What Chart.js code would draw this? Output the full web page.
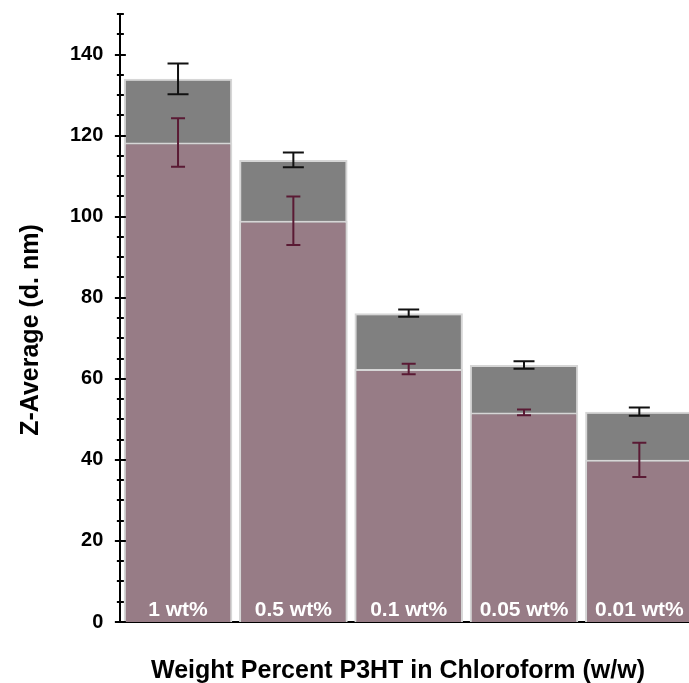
<!DOCTYPE html>
<html>
<head>
<meta charset="utf-8">
<title>Z-Average vs P3HT concentration</title>
<script src="https://cdn.jsdelivr.net/npm/chart.js@4.4.1/dist/chart.umd.min.js"></script>
<style>
  html, body { margin: 0; padding: 0; background: #fff; overflow: hidden; }
  #wrap { width: 700px; height: 683px; }
</style>
</head>
<body>
<div id="wrap"><canvas id="zavgChart" width="700" height="683"></canvas></div>
<script>
// categories (printed inside the bars)
const categories = ['1 wt%', '0.5 wt%', '0.1 wt%', '0.05 wt%', '0.01 wt%'];

// grey bars (taller) and their error
const outerAvg = [134, 114, 76.2, 63.4, 51.9];
const outerErr = [3.8, 1.8, 0.9, 0.9, 1.0];

// mauve bars (front) and their error
const innerAvg = [118.3, 99, 62.4, 51.7, 40];
const innerErr = [6, 6, 1.3, 0.7, 4.2];

// y axis
const yLabels = [0, 20, 40, 60, 80, 100, 120, 140];
const yMax = 150;
const yMinorStep = 5;

const FONT = "'Liberation Sans', Arial, Helvetica, sans-serif";
Chart.defaults.font.family = FONT;

// error bars, in-bar labels, crossing ticks and axis titles
const extras = {
  id: 'extras',
  afterDatasetsDraw(chart) {
    const ctx = chart.ctx;
    const x = chart.scales.x, y = chart.scales.y;

    function errBars(vals, errs, color, cap) {
      ctx.save();
      ctx.strokeStyle = color;
      ctx.lineWidth = 2;
      vals.forEach((v, i) => {
        const cx = x.getPixelForValue(i);
        const top = y.getPixelForValue(v + errs[i]);
        const bot = y.getPixelForValue(v - errs[i]);
        ctx.beginPath();
        ctx.moveTo(cx, top); ctx.lineTo(cx, bot);
        ctx.moveTo(cx - cap / 2, top); ctx.lineTo(cx + cap / 2, top);
        ctx.moveTo(cx - cap / 2, bot); ctx.lineTo(cx + cap / 2, bot);
        ctx.stroke();
      });
      ctx.restore();
    }
    errBars(outerAvg, outerErr, '#111111', 21);
    errBars(innerAvg, innerErr, '#5a1a34', 14);

    // category names inside the bars
    ctx.save();
    ctx.fillStyle = '#ffffff';
    ctx.font = 'bold 21px ' + FONT;
    ctx.textAlign = 'center';
    ctx.textBaseline = 'alphabetic';
    categories.forEach((c, i) => {
      ctx.fillText(c, x.getPixelForValue(i), y.bottom - 6);
    });
    ctx.restore();
  },
  afterDraw(chart) {
    const ctx = chart.ctx;
    const y = chart.scales.y;
    const ax = chart.chartArea.left;

    // tick marks crossing the y axis
    ctx.save();
    ctx.strokeStyle = '#000';
    ctx.lineWidth = 2;
    y.ticks.forEach(t => {
      const py = Math.round(y.getPixelForValue(t.value));
      const half = yLabels.includes(t.value) ? 5.5 : 3.5;
      ctx.beginPath();
      ctx.moveTo(ax - half, py); ctx.lineTo(ax + half, py);
      ctx.stroke();
    });
    ctx.restore();

    // axis titles
    ctx.save();
    ctx.fillStyle = '#000';
    ctx.font = 'bold 25px ' + FONT;
    ctx.textAlign = 'center';
    ctx.textBaseline = 'alphabetic';
    ctx.fillText('Weight Percent P3HT in Chloroform (w/w)', 398, 678);
    ctx.translate(38, 330);
    ctx.rotate(-Math.PI / 2);
    ctx.fillText('Z-Average (d. nm)', 0, 0);
    ctx.restore();
  }
};

new Chart(document.getElementById('zavgChart'), {
  type: 'bar',
  data: {
    labels: categories,
    datasets: [
      {
        label: 'front',
        data: innerAvg,
        backgroundColor: 'rgb(151,124,134)',
        borderColor: '#d6d6d6',
        borderWidth: 2,
        order: 1
      },
      {
        label: 'back',
        data: outerAvg,
        backgroundColor: 'rgb(128,128,128)',
        borderColor: '#d6d6d6',
        borderWidth: 2,
        order: 2
      }
    ]
  },
  options: {
    responsive: false,
    animation: false,
    events: [],
    layout: { padding: { left: 53, top: 14, right: 3, bottom: 61 } },
    datasets: {
      bar: { grouped: false, barPercentage: 0.94, categoryPercentage: 1 }
    },
    plugins: {
      legend: { display: false },
      tooltip: { enabled: false }
    },
    scales: {
      x: {
        offset: true,
        grid: { display: false, drawTicks: false },
        ticks: { display: false },
        border: { display: true, color: '#000', width: 2 }
      },
      y: {
        min: 0,
        max: yMax,
        grid: { display: false, drawTicks: false },
        border: { display: true, color: '#000', width: 2 },
        afterFit(scale) { scale.paddingTop = 0; scale.paddingBottom = 0; },
        ticks: {
          stepSize: yMinorStep,
          autoSkip: false,
          padding: 17,
          color: '#000',
          font: { size: 20, weight: 'bold' },
          callback: v => (yLabels.includes(v) ? String(v) : '')
        }
      }
    }
  },
  plugins: [extras]
});
</script>
</body>
</html>
